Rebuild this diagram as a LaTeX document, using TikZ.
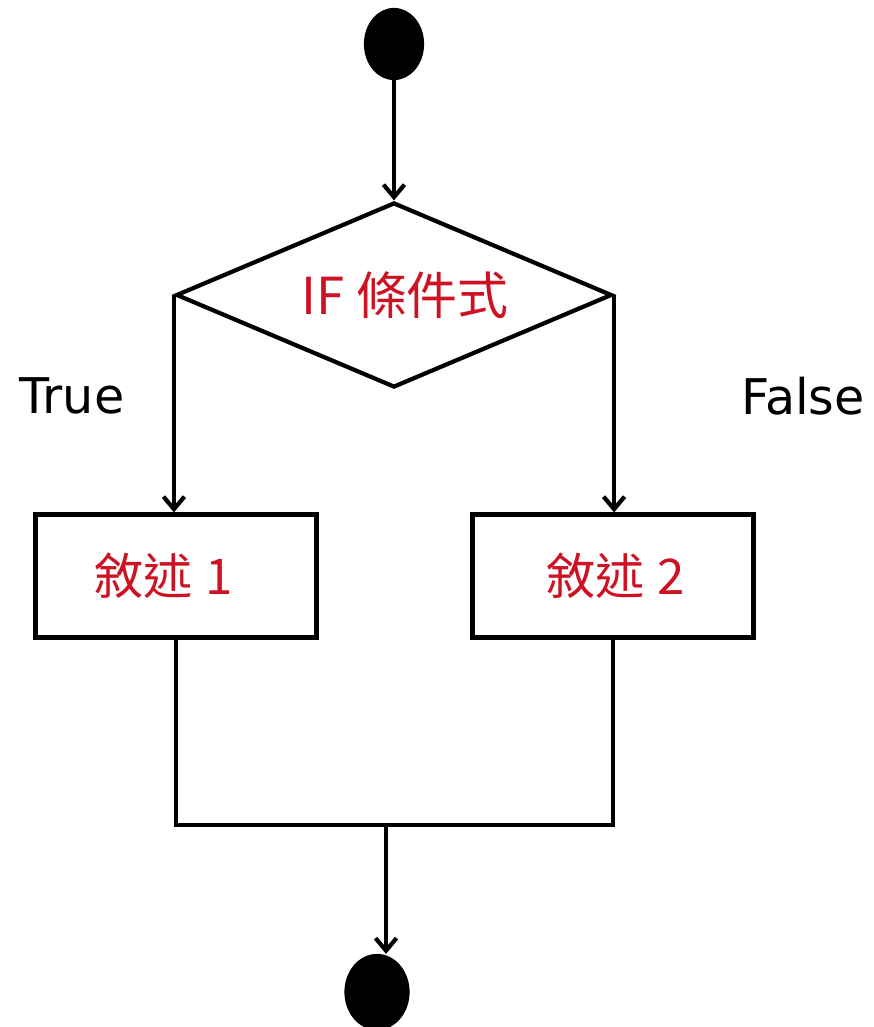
\documentclass[tikz,border=0pt]{standalone}
\usepackage{fontspec}
\setmainfont{Noto Sans CJK TC}
\newfontfamily\latinfont{DejaVu Sans}
\usetikzlibrary{positioning,shapes.geometric,arrows.meta}
\definecolor{condred}{RGB}{205,18,36}

\begin{document}
\begin{tikzpicture}[x=0.02cm,y=-0.02cm,
        line width=2.4pt,
        dot/.style={ellipse,fill=black,draw=black,inner sep=0pt},
        stmt/.style={draw,rectangle,minimum width=5.62cm,minimum height=2.46cm,
            inner sep=0pt,text=condred,font=\fontsize{28}{32}\selectfont},
        flow/.style={-{Straight Barb[length=0.25cm,width=0.42cm]}},
        side/.style={font=\latinfont\fontsize{28}{32}\selectfont}]
            \useasboundingbox (0,0) rectangle (874,1027);
            % start and end
            \node[dot,minimum width=1.12cm,minimum height=1.36cm] (start) at (394,44) {};
            \node[dot,minimum width=1.22cm,minimum height=1.44cm] (end) at (377,992) {};
            % condition
            \node[draw,diamond,shape aspect=2.36,minimum width=8.72cm,minimum height=3.7cm,
                inner sep=0pt,text=condred,font=\fontsize{29}{32}\selectfont] (cond) at (394,295)
                {\hspace{0.45cm}IF 條件式};
            % statements
            \node[stmt] (stmt1) at (176,576) {\hspace{-0.5cm}敘述\hspace{0.25cm}1};
            \node[stmt] (stmt2) at (613,576) {\hspace{0.1cm}敘述\hspace{0.25cm}2};
            \node[side] (true) at (72,396) {True};
            \node[side] (false) at (803,396) {False};
            \coordinate (join) at (386,825);
            % connectors
            \draw[flow] (start.south) -- (cond.north);
            \draw[flow] (cond.west) -- (cond.west |- stmt1.north);
            \draw[flow] (cond.east) -- (cond.east |- stmt2.north);
            \draw (stmt1.south) |- (join) -| (stmt2.south);
            \draw[flow] (join) -- (join |- end.north);
\end{tikzpicture}
\end{document}
